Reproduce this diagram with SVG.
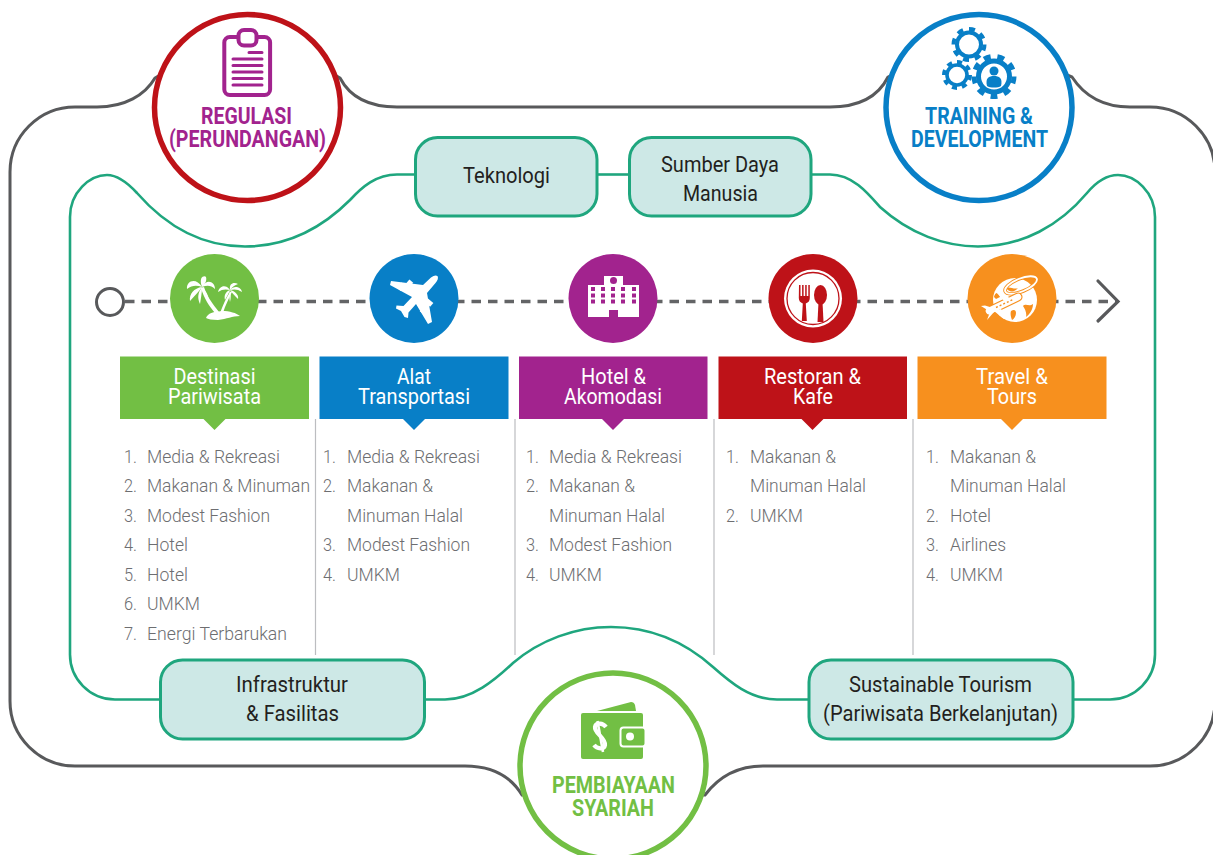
<svg xmlns="http://www.w3.org/2000/svg" width="1213" height="855" viewBox="0 0 1213 855">
<style>
text{font-family:Roboto,"Liberation Sans",sans-serif;}
.cap{font-size:23px;font-weight:700}
.box{font-size:22.5px;fill:#231f20}
.hd{font-size:22.5px;fill:#fff}
.li{font-size:19px;font-weight:300;fill:#6d6e71}
.ring{fill:#fff;stroke-width:5.5}
.tile{fill:#cde8e6;stroke:#1fa67e;stroke-width:3}
.out{fill:none;stroke:#58595b;stroke-width:3}
.grn{fill:none;stroke:#1fa67e;stroke-width:2.6}
.sep{stroke:#bcbdc0;stroke-width:1.2}
</style>
<rect width="1213" height="855" fill="#fff"/>
<g id="connectors">
<path class="out" d="M1215,172 A65,65 0 0 0 1150,107 L1130,107 C1105,107 1085,97 1072,77 L1060,72 M898,72 L888,77 C878,97 858,107 830,107 L397,107 C370,107 350,97 340,78 L330,72 M165,72 L155,78 C145,95 125,107 97,107 L75,107 A65,65 0 0 0 10,172 L10,701 A65,65 0 0 0 75,766 L465,766 C490,766 510,775 522,795 L535,795 M692,795 L705,795 C720,775 740,766 763,766 L1150,766 A65,65 0 0 0 1215,701"/>
<path class="grn" d="M415,174.5 L397,174.5 C376,174.5 362,187 350,200 C318,232 282,246.5 245,246.5 C200,246.5 165,225 137,193 C125,180 116,175 107,175 C90,175 70,192 70,217 L70,654 A45,45 0 0 0 115,699.5 L160,699.5"/>
<path class="grn" d="M597,174.5 L629,174.5"/>
<path class="grn" d="M811,174.5 L830,174.5 C852,174.5 867,192 880,207 C910,234 945,246.5 978,246.5 C1023,246.5 1060,225 1087,193 C1097,181 1108,175 1118,175 C1135,175 1155,192 1155,217 L1155,654 A45,45 0 0 1 1110,699.5 L1073,699.5"/>
<path class="grn" d="M425,699.5 L445,699.5 C472,699.5 495,680 513,663 C540,640 575,627 611,627 C650,627 685,642 713,667 C730,682 750,699.5 777,699.5 L809,699.5"/>
<path d="M125,301.5 H1118" fill="none" stroke="#636466" stroke-width="3.4" stroke-dasharray="9.500 7"/>
<circle cx="110" cy="302" r="13.500" fill="#fff" stroke="#58595b" stroke-width="3"/>
<path d="M1098,281 L1118,301.5 L1098,321" fill="none" stroke="#58595b" stroke-width="3.2" stroke-linecap="round"/>
<path class="sep" d="M315.5,419 V655 M515,419 V655 M714,419 V655 M913,419 V655"/>
</g>

<g id="regulasi">
<circle class="ring" cx="247.500" cy="107.500" r="93" stroke="#be1218"/>
<rect x="224.300" y="37" width="45.800" height="58" rx="5.500" fill="none" stroke="#a2238e" stroke-width="4"/>
<rect x="238.500" y="30" width="18" height="15.500" rx="5.500" fill="#fff" stroke="#a2238e" stroke-width="4"/>
<path d="M249,52.500H262M233,59H262M233,65.500H262M233,72H262M233,78.500H262M233,85H262" fill="none" stroke="#a2238e" stroke-width="3" stroke-linecap="round"/>
<text class="cap" fill="#a2238e" x="201" y="124" textLength="91" lengthAdjust="spacingAndGlyphs">REGULASI</text>
<text class="cap" fill="#a2238e" x="169" y="147" textLength="157" lengthAdjust="spacingAndGlyphs">(PERUNDANGAN)</text>
</g>

<g id="training">
<circle class="ring" cx="979" cy="107.500" r="93" stroke="#087fc7"/>
<g fill="none" stroke="#087fc7">
<circle cx="969" cy="44.500" r="15.500" stroke-width="4" pathLength="16" stroke-dasharray="1 1"/>
<circle cx="969" cy="44.500" r="12" stroke-width="4"/>
<circle cx="957" cy="75" r="13" stroke-width="4" pathLength="16" stroke-dasharray="1 1"/>
<circle cx="957" cy="75" r="10" stroke-width="3.600"/>
<circle cx="994" cy="76.500" r="20" stroke-width="5" pathLength="18" stroke-dasharray="1 1"/>
<circle cx="994" cy="76.500" r="15.500" stroke-width="5"/>
</g>
<circle cx="994" cy="71" r="4.500" fill="#087fc7"/>
<path d="M987,86 C985,78 989,76 994,76 C999,76 1003,78 1001,86 C998,88 990,88 987,86 Z" fill="#087fc7"/>
<text class="cap" fill="#087fc7" x="925" y="124" textLength="108" lengthAdjust="spacingAndGlyphs">TRAINING &amp;</text>
<text class="cap" fill="#087fc7" x="911" y="147" textLength="137" lengthAdjust="spacingAndGlyphs">DEVELOPMENT</text>
</g>

<g id="pembiayaan">
<circle class="ring" cx="613" cy="766" r="93" stroke="#72bf44"/>
<path d="M597,711 L631,702 Q634,702 635,705 L636,711 Z" fill="#72bf44"/>
<rect x="581" y="713" width="62" height="46" rx="2" fill="#72bf44"/>
<rect x="620.500" y="727.500" width="25" height="19" rx="3" fill="#72bf44" stroke="#fff" stroke-width="2"/>
<circle cx="630" cy="736.500" r="4" fill="#fff"/>
<path d="M606,727 C603,723 596,722 595,727 C594,733 606,738 605,745 C604,750 597,749 594,745" fill="none" stroke="#fff" stroke-width="4.200"/>
<path d="M597.500,721 L603,752" fill="none" stroke="#fff" stroke-width="2.600"/>
<text class="cap" fill="#72bf44" x="552" y="793" textLength="123" lengthAdjust="spacingAndGlyphs">PEMBIAYAAN</text>
<text class="cap" fill="#72bf44" x="572" y="816" textLength="82" lengthAdjust="spacingAndGlyphs">SYARIAH</text>
</g>

<g id="teknologi">
<rect class="tile" x="415.500" y="137.500" width="181.500" height="78.500" rx="22"/>
<text class="box" x="463" y="183" textLength="87" lengthAdjust="spacingAndGlyphs">Teknologi</text>
</g>
<g id="sdm">
<rect class="tile" x="629.500" y="137.500" width="181.500" height="78.500" rx="22"/>
<text class="box" x="661" y="172" textLength="118" lengthAdjust="spacingAndGlyphs">Sumber Daya</text>
<text class="box" x="683" y="201" textLength="75" lengthAdjust="spacingAndGlyphs">Manusia</text>
</g>
<g id="infrastruktur">
<rect class="tile" x="160.500" y="660" width="264" height="79" rx="22"/>
<text class="box" x="236" y="692" textLength="112" lengthAdjust="spacingAndGlyphs">Infrastruktur</text>
<text class="box" x="246" y="721" textLength="93" lengthAdjust="spacingAndGlyphs">&amp; Fasilitas</text>
</g>
<g id="sustainable">
<rect class="tile" x="809" y="660" width="264" height="79" rx="22"/>
<text class="box" x="849" y="692" textLength="183" lengthAdjust="spacingAndGlyphs">Sustainable Tourism</text>
<text class="box" x="823" y="721" textLength="235" lengthAdjust="spacingAndGlyphs">(Pariwisata Berkelanjutan)</text>
</g>

<g id="destinasi">
<circle cx="214.500" cy="298.500" r="44.500" fill="#72bf44"/>
<g fill="#fff">
<path d="M202,287 C196,277 186,281 187,289 C192,285 197,285 202,287Z"/>
<path d="M202,287 C198,276 205,275 206,277 C207,281 205,284 202,287Z"/>
<path d="M202,287 C207,278 215,282 215,289 C211,285 207,285 202,287Z"/>
<path d="M202,287 C194,288 189,294 190,301 C194,296 199,292 202,287Z"/>
<path d="M202,287 C198,292 197,298 200,304 C201,298 202,292 202,287Z"/>
<path d="M202,287 C206,291 209,296 209,302 C206,297 203,292 202,287Z"/>
<path d="M230,290 C225,283 219,287 218,292 C222,289 226,289 230,290Z"/>
<path d="M230,290 C229,283 234,282 238,284 C235,285 232,287 230,290Z"/>
<path d="M230,290 C234,285 241,287 242,292 C238,289 234,289 230,290Z"/>
<path d="M230,290 C235,291 239,295 238,299 C235,296 232,293 230,290Z"/>
<path d="M230,290 C225,292 224,296 225,300 C227,296 229,293 230,290Z"/>
<path d="M230,290 C229,294 229,298 230,302 C231,298 231,294 230,290Z"/>
<path d="M201,288 L204,287 C207,297 213,304 219,312 L215,313 C209,306 204,298 201,288Z"/>
<path d="M230,292 L232,292 C229,298 225,306 223,313 L220,313 C223,305 226,298 230,292Z"/>
<path d="M206,318 C208,313 213,312 222,311 C230,311 236,313 240,316 C232,316 227,319 218,320 C212,320 208,319 206,318Z"/>
</g>
<rect x="120" y="356.500" width="189" height="62.500" fill="#72bf44"/>
<polygon points="203.500,419 225.500,419 214.500,430" fill="#72bf44"/>
<text class="hd" x="173.500" y="384" textLength="82" lengthAdjust="spacingAndGlyphs">Destinasi</text>
<text class="hd" x="168" y="404" textLength="93" lengthAdjust="spacingAndGlyphs">Pariwisata</text>
<g class="li">
<text x="124" y="463" textLength="13" lengthAdjust="spacingAndGlyphs">1.</text><text x="147" y="463" textLength="133" lengthAdjust="spacingAndGlyphs">Media &amp; Rekreasi</text>
<text x="124" y="492" textLength="13" lengthAdjust="spacingAndGlyphs">2.</text><text x="147" y="492" textLength="163" lengthAdjust="spacingAndGlyphs">Makanan &amp; Minuman</text>
<text x="124" y="522" textLength="13" lengthAdjust="spacingAndGlyphs">3.</text><text x="147" y="522" textLength="123" lengthAdjust="spacingAndGlyphs">Modest Fashion</text>
<text x="124" y="551" textLength="13" lengthAdjust="spacingAndGlyphs">4.</text><text x="147" y="551" textLength="41" lengthAdjust="spacingAndGlyphs">Hotel</text>
<text x="124" y="581" textLength="13" lengthAdjust="spacingAndGlyphs">5.</text><text x="147" y="581" textLength="41" lengthAdjust="spacingAndGlyphs">Hotel</text>
<text x="124" y="610" textLength="13" lengthAdjust="spacingAndGlyphs">6.</text><text x="147" y="610" textLength="53" lengthAdjust="spacingAndGlyphs">UMKM</text>
<text x="124" y="640" textLength="13" lengthAdjust="spacingAndGlyphs">7.</text><text x="147" y="640" textLength="140" lengthAdjust="spacingAndGlyphs">Energi Terbarukan</text>
</g>
</g>

<g id="transportasi">
<circle cx="414" cy="298.500" r="44.500" fill="#087fc7"/>
<path fill="#fff" d="M431,277.500 Q435,274.500 437.500,276 Q439,279 435.500,283 L427,293 L432,322 L428,324 L416,304 L408.500,312.500 L408,318 L404.500,317 L401,311 L396,308.500 L396.500,305.500 L403.500,306 L412,297 L390,285 L391,281 L423,285 Z"/>
<g fill="#fff">
<rect x="407" y="280" width="5" height="7" transform="rotate(40 409 283)"/>
<rect x="399" y="283" width="5" height="7" transform="rotate(40 401 286)"/>
<rect x="426" y="300" width="7" height="5" transform="rotate(40 429 302)"/>
<rect x="421" y="309" width="7" height="5" transform="rotate(40 424 311)"/>
</g>
<rect x="319.500" y="356.500" width="189" height="62.500" fill="#087fc7"/>
<polygon points="403,419 425,419 414,430" fill="#087fc7"/>
<text class="hd" x="397" y="384" textLength="34" lengthAdjust="spacingAndGlyphs">Alat</text>
<text class="hd" x="358" y="404" textLength="112" lengthAdjust="spacingAndGlyphs">Transportasi</text>
<g class="li">
<text x="323" y="463" textLength="13" lengthAdjust="spacingAndGlyphs">1.</text><text x="347" y="463" textLength="133" lengthAdjust="spacingAndGlyphs">Media &amp; Rekreasi</text>
<text x="323" y="492" textLength="13" lengthAdjust="spacingAndGlyphs">2.</text><text x="347" y="492" textLength="86" lengthAdjust="spacingAndGlyphs">Makanan &amp;</text>
<text x="347" y="522" textLength="116" lengthAdjust="spacingAndGlyphs">Minuman Halal</text>
<text x="323" y="551" textLength="13" lengthAdjust="spacingAndGlyphs">3.</text><text x="347" y="551" textLength="123" lengthAdjust="spacingAndGlyphs">Modest Fashion</text>
<text x="323" y="581" textLength="13" lengthAdjust="spacingAndGlyphs">4.</text><text x="347" y="581" textLength="53" lengthAdjust="spacingAndGlyphs">UMKM</text>
</g>
</g>

<g id="hotel">
<circle cx="613" cy="298.500" r="44.500" fill="#a2238e"/>
<path d="M588,285 H604 V276 H623 V285 H639 V317 H618 V310 H609 V317 H588 Z" fill="#fff"/>
<circle cx="613.500" cy="280.500" r="3.500" fill="#a2238e"/>
<g fill="#a2238e">
<path d="M591,287h4v4h-4zM601,287h4v4h-4zM611,287h4v4h-4zM621,287h4v4h-4zM632,287h4v4h-4z"/>
<path d="M591,293.500h4v4h-4zM601,293.500h4v4h-4zM611,293.500h4v4h-4zM621,293.500h4v4h-4zM632,293.500h4v4h-4z"/>
<path d="M591,299.500h4v4h-4zM601,299.500h4v4h-4zM611,299.500h4v4h-4zM621,299.500h4v4h-4zM632,299.500h4v4h-4z"/>
</g>
<rect x="519" y="356.500" width="188.500" height="62.500" fill="#a2238e"/>
<polygon points="602,419 624,419 613,430" fill="#a2238e"/>
<text class="hd" x="581" y="384" textLength="65" lengthAdjust="spacingAndGlyphs">Hotel &amp;</text>
<text class="hd" x="564" y="404" textLength="98" lengthAdjust="spacingAndGlyphs">Akomodasi</text>
<g class="li">
<text x="526" y="463" textLength="13" lengthAdjust="spacingAndGlyphs">1.</text><text x="549" y="463" textLength="133" lengthAdjust="spacingAndGlyphs">Media &amp; Rekreasi</text>
<text x="526" y="492" textLength="13" lengthAdjust="spacingAndGlyphs">2.</text><text x="549" y="492" textLength="86" lengthAdjust="spacingAndGlyphs">Makanan &amp;</text>
<text x="549" y="522" textLength="116" lengthAdjust="spacingAndGlyphs">Minuman Halal</text>
<text x="526" y="551" textLength="13" lengthAdjust="spacingAndGlyphs">3.</text><text x="549" y="551" textLength="123" lengthAdjust="spacingAndGlyphs">Modest Fashion</text>
<text x="526" y="581" textLength="13" lengthAdjust="spacingAndGlyphs">4.</text><text x="549" y="581" textLength="53" lengthAdjust="spacingAndGlyphs">UMKM</text>
</g>
</g>

<g id="restoran">
<circle cx="813" cy="298.500" r="44.500" fill="#be1218"/>
<circle cx="813" cy="298.500" r="29" fill="#fff"/>
<circle cx="813" cy="298.500" r="26" fill="none" stroke="#be1218" stroke-width="1.300"/>
<g fill="#be1218">
<path d="M799,285h1.500v11h1.600v-11h1.500v11h1.600v-11h1.500v11h1.600v-11h1.500v13q0,4,-4,5.500l1,17.500h-5l1,-17.500q-4,-1.500,-4,-5.500z"/>
<ellipse cx="820.500" cy="295" rx="6.500" ry="10"/>
<path d="M818.500,302h4l1,20h-6z"/>
</g>
<rect x="718.500" y="356.500" width="188.500" height="62.500" fill="#be1218"/>
<polygon points="801.500,419 823.500,419 812.500,430" fill="#be1218"/>
<text class="hd" x="764" y="384" textLength="97" lengthAdjust="spacingAndGlyphs">Restoran &amp;</text>
<text class="hd" x="793" y="404" textLength="40" lengthAdjust="spacingAndGlyphs">Kafe</text>
<g class="li">
<text x="726" y="463" textLength="13" lengthAdjust="spacingAndGlyphs">1.</text><text x="750" y="463" textLength="86" lengthAdjust="spacingAndGlyphs">Makanan &amp;</text>
<text x="750" y="492" textLength="116" lengthAdjust="spacingAndGlyphs">Minuman Halal</text>
<text x="726" y="522" textLength="13" lengthAdjust="spacingAndGlyphs">2.</text><text x="750" y="522" textLength="53" lengthAdjust="spacingAndGlyphs">UMKM</text>
</g>
</g>

<g id="travel">
<circle cx="1012" cy="298.500" r="44.500" fill="#f7901e"/>
<circle cx="1015" cy="300" r="22" fill="#fff"/>
<path fill="#f7901e" d="M1006,288 C1010,286 1014,290 1018,288 C1014,293 1009,292 1006,288Z M1011,311 C1014,309 1016,310 1016,313 C1016,316 1014,319 1012,320 C1011,317 1010,314 1011,311Z M1023,306 C1026,303 1029,307 1033,304 C1033,310 1029,315 1026,317 C1027,313 1025,309 1023,306Z M994,297 C995,293 997,292 999,294 L1000,297 L996,299Z"/>
<ellipse cx="1021" cy="285" rx="17" ry="6.500" transform="rotate(-22 1021 285)" fill="none" stroke="#f7901e" stroke-width="3.600"/>
<ellipse cx="1021" cy="285" rx="17" ry="6.500" transform="rotate(-22 1021 285)" fill="none" stroke="#fff" stroke-width="1.800"/>
<path d="M989,311 L1018,297" fill="none" stroke="#f7901e" stroke-width="9" stroke-linecap="round"/>
<path d="M989,311 L1018,297" fill="none" stroke="#fff" stroke-width="6.600" stroke-linecap="round"/>
<path d="M996,307.500 L1014,299" fill="none" stroke="#f7901e" stroke-width="1.400" stroke-dasharray="2 2"/>
<path fill="#fff" d="M1005,302 L995,291 L999,291 L1011,299 Z M1001,309 L1008,319 L1004,319 L994,311 Z M989,311 L981,306 L985,305.500 L993,308 Z M990,312 L987,320 L994,312 Z"/>
<rect x="917.500" y="356.500" width="189" height="62.500" fill="#f7901e"/>
<polygon points="1001,419 1023,419 1012,430" fill="#f7901e"/>
<text class="hd" x="976" y="384" textLength="72" lengthAdjust="spacingAndGlyphs">Travel &amp;</text>
<text class="hd" x="987" y="404" textLength="50" lengthAdjust="spacingAndGlyphs">Tours</text>
<g class="li">
<text x="926" y="463" textLength="13" lengthAdjust="spacingAndGlyphs">1.</text><text x="950" y="463" textLength="86" lengthAdjust="spacingAndGlyphs">Makanan &amp;</text>
<text x="950" y="492" textLength="116" lengthAdjust="spacingAndGlyphs">Minuman Halal</text>
<text x="926" y="522" textLength="13" lengthAdjust="spacingAndGlyphs">2.</text><text x="950" y="522" textLength="41" lengthAdjust="spacingAndGlyphs">Hotel</text>
<text x="926" y="551" textLength="13" lengthAdjust="spacingAndGlyphs">3.</text><text x="950" y="551" textLength="56" lengthAdjust="spacingAndGlyphs">Airlines</text>
<text x="926" y="581" textLength="13" lengthAdjust="spacingAndGlyphs">4.</text><text x="950" y="581" textLength="53" lengthAdjust="spacingAndGlyphs">UMKM</text>
</g>
</g>
</svg>
